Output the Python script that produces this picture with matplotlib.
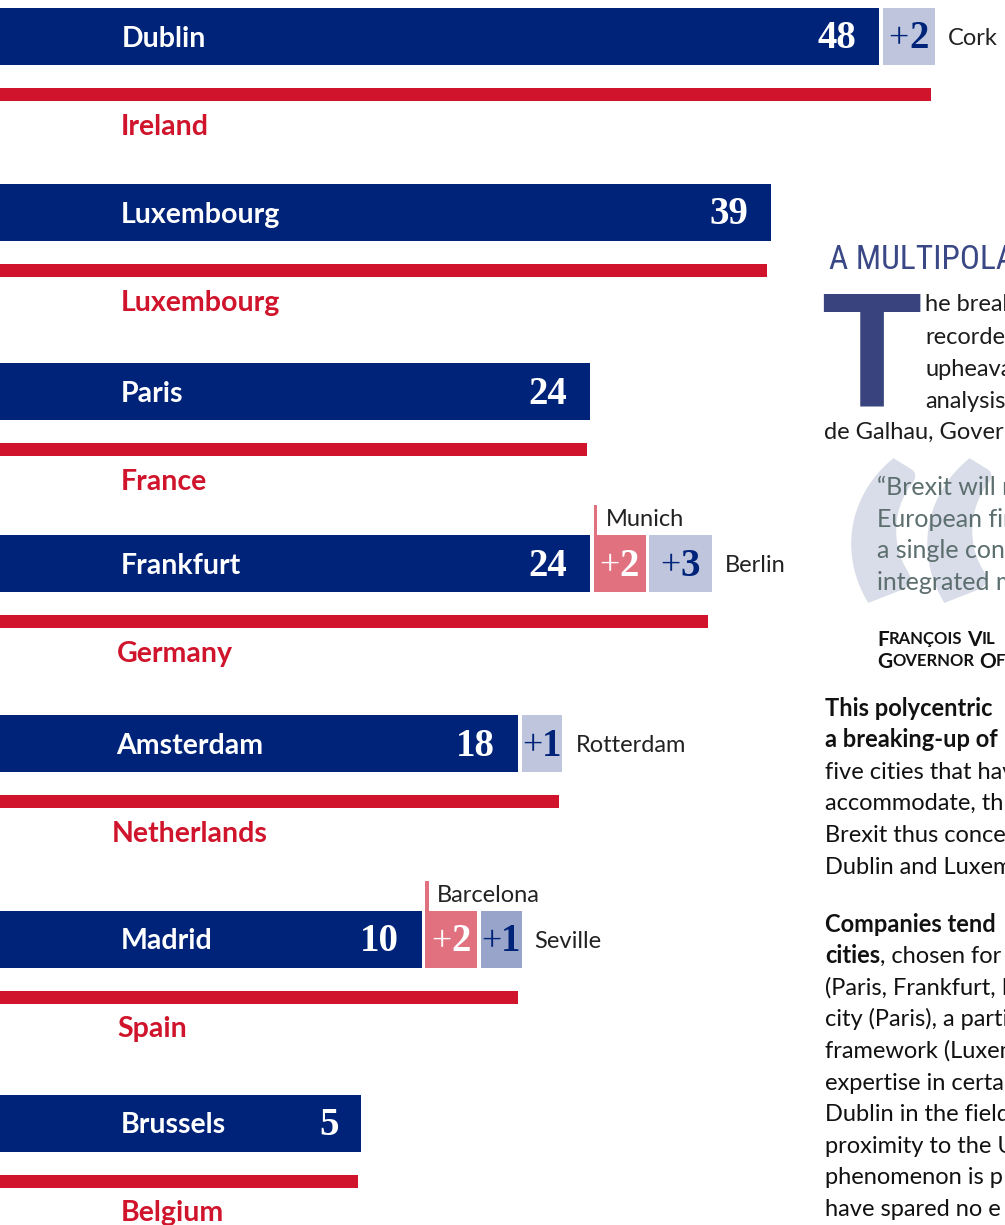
import matplotlib
matplotlib.use('Agg')
import matplotlib.pyplot as plt

# chart data
cities = ['Dublin', 'Luxembourg', 'Paris', 'Frankfurt', 'Amsterdam', 'Madrid', 'Brussels']
countries = ['Ireland', 'Luxembourg', 'France', 'Germany', 'Netherlands', 'Spain', 'Belgium']
main_counts = [48, 39, 24, 24, 18, 10, 5]
top_extra_names = [None, None, None, 'Munich', None, 'Barcelona', None]
top_extra_counts = [0, 0, 0, 2, 0, 2, 0]
side_extra_names = ['Cork', None, None, 'Berlin', 'Rotterdam', 'Seville', None]
side_extra_counts = [2, 0, 0, 3, 1, 1, 0]

# layout (pixels)
W, H = 1005, 1225
row_y = [36.5, 212.5, 391.5, 563.5, 743.5, 939, 1123]
city_x = [122, 121, 121, 121, 116, 121, 121]
country_x = [121, 121, 121, 117, 112, 117, 121]
side_box_colors = ['#bec5dd', None, None, '#bec5dd', '#bec5dd', '#98a4ca', None]

PX_PER_UNIT = 12.05
ORIGIN_PX = 301
X0 = -ORIGIN_PX / PX_PER_UNIT
X1 = (W - ORIGIN_PX) / PX_PER_UNIT
GAP = 0.3

NAVY = '#00237a'
RED = '#cf142b'
PINK = '#e1717f'
SANS = 'Lato'
SERIF = 'Liberation Serif'
BODY = 17


def px2u(px):
    return px / PX_PER_UNIT


def box_w(n):
    return 2.5 + 0.9 * n


def base(yc, size):
    # baseline from the visual centre of a text line
    return yc + 0.36 * size * 100 / 72


fig = plt.figure(figsize=(W / 100, H / 100), dpi=100)
ax = fig.add_axes([0, 0, 1, 1])
ax.set_xlim(X0, X1)
ax.set_ylim(H, 0)
ax.axis('off')

BAR_H = 57
ax.barh(row_y, [v - X0 for v in main_counts], left=X0, height=BAR_H, color=NAVY)

for i, y in enumerate(row_y):
    v = main_counts[i]
    ax.text(px2u(city_x[i] - ORIGIN_PX), base(y, 20.5), cities[i], color='white',
            fontsize=20.5, fontweight='bold', family=SANS, va='baseline')
    ax.text(v - 1.9, y + 12, str(v), color='white', fontsize=28,
            fontweight='bold', family=SERIF, ha='right', va='baseline')

    pos = v + GAP
    if top_extra_counts[i]:
        n = top_extra_counts[i]
        w = box_w(n)
        ax.barh(y, w, left=pos, height=BAR_H, color=PINK)
        ax.bar(pos, 30, bottom=y - BAR_H / 2 - 30, width=0.3, align='edge', color=PINK)
        ax.text(pos + px2u(12), base(y - 46, 17), top_extra_names[i], color='#222222',
                fontsize=17, family=SANS, va='baseline')
        cx = pos + w / 2
        ax.text(cx, y + 12, '+', color='white', fontsize=26, family=SERIF,
                ha='right', va='baseline')
        ax.text(cx, y + 12, str(n), color='white', fontsize=28, fontweight='bold',
                family=SERIF, ha='left', va='baseline')
        pos += w + GAP
    if side_extra_counts[i]:
        n = side_extra_counts[i]
        w = box_w(n)
        ax.barh(y, w, left=pos, height=BAR_H, color=side_box_colors[i])
        cx = pos + w / 2
        ax.text(cx, y + 12, '+', color=NAVY, fontsize=26, family=SERIF,
                ha='right', va='baseline')
        ax.text(cx, y + 12, str(n), color=NAVY, fontsize=28, fontweight='bold',
                family=SERIF, ha='left', va='baseline')
        ax.text(pos + w + px2u(13), base(y, 17), side_extra_names[i], color='#222222',
                fontsize=17, family=SANS, va='baseline')
        pos += w + GAP
    end = pos - GAP - 0.3
    ax.barh(y + 58, end - X0, left=X0, height=13, color=RED)
    ax.text(px2u(country_x[i] - ORIGIN_PX), base(y + 88, 20.5), countries[i], color=RED,
            fontsize=20.5, fontweight='bold', family=SANS, va='baseline')


# right hand text column
def ftext(xpx, yc, s, size, **kw):
    return fig.text(xpx / W, 1 - base(yc, size) / H, s, fontsize=size,
                    va='baseline', **kw)


def fseq(xpx, yc, parts, gap=0):
    r = fig.canvas.get_renderer()
    x = xpx
    for s, weight, size in parts:
        if s == ' ':
            x += size * 0.4
            continue
        t = ftext(x, yc, s, size, fontweight=weight, family=SANS, color='#111111')
        x += t.get_window_extent(r).width + gap


ftext(829, 257, 'A MULTIPOLAR', 24, color='#3a4886',
      family=['Liberation Sans Narrow', 'Roboto Condensed', 'Roboto'])

fig.text(821 / W, 1 - 406 / H, 'T', fontsize=118, fontweight='bold',
         family='Liberation Sans', color='#39447f', va='baseline')

drop_lines = ['he breaku', 'recorded', 'upheaval', 'analysis']
drop_y = [303, 335, 368, 399]
for s, yy in zip(drop_lines, drop_y):
    ftext(925, yy, s, BODY, family=SANS, color='#1c1c1c')
ftext(824, 430, 'de Galhau, Govern', BODY, family=SANS, color='#1c1c1c')

fig.text(832 / W, 1 - 476 / H, '\u201c', fontsize=330, fontweight='bold', family=SANS,
         color='#d9dde9', va='top', zorder=0)
quote_lines = ['\u201cBrexit will re', 'European fina', 'a single cont', 'integrated ma']
quote_y = [486, 518, 549, 581]
for s, yy in zip(quote_lines, quote_y):
    ftext(877, yy, s, 18, family=SANS, color='#5c6e6e', zorder=2)

fseq(877, 638, [('F', 'bold', 15), ('RAN\u00c7OIS', 'bold', 12), (' ', 'bold', 12),
                ('V', 'bold', 15), ('IL', 'bold', 12)])
fseq(877, 660, [('G', 'bold', 15), ('OVERNOR', 'bold', 12), (' ', 'bold', 12),
                ('O', 'bold', 15), ('F', 'bold', 12)])

para1 = [('This polycentric', 'bold'), ('a breaking-up of', 'bold'),
         ('five cities that hav', 'normal'), ('accommodate, th', 'normal'),
         ('Brexit thus conce', 'normal'), ('Dublin and Luxem', 'normal')]
for k, (s, wgt) in enumerate(para1):
    ftext(825, 707 + 31.6 * k, s, BODY, family=SANS, fontweight=wgt, color='#111111')

para2 = ['Companies tend', None, '(Paris, Frankfurt, L', 'city (Paris), a parti',
         'framework (Luxem', 'expertise in certai', 'Dublin in the field',
         'proximity to the U', 'phenomenon is p', 'have spared no e']
for k, s in enumerate(para2):
    yy = 923 + 31.6 * k
    if k == 0:
        ftext(825, yy, s, BODY, family=SANS, fontweight='bold', color='#111111')
    elif s is None:
        fseq(825, yy, [('cities', 'bold', BODY), (', chosen for', 'normal', BODY)])
    else:
        ftext(825, yy, s, BODY, family=SANS, color='#111111')

fig.savefig('out.png', dpi=100)
